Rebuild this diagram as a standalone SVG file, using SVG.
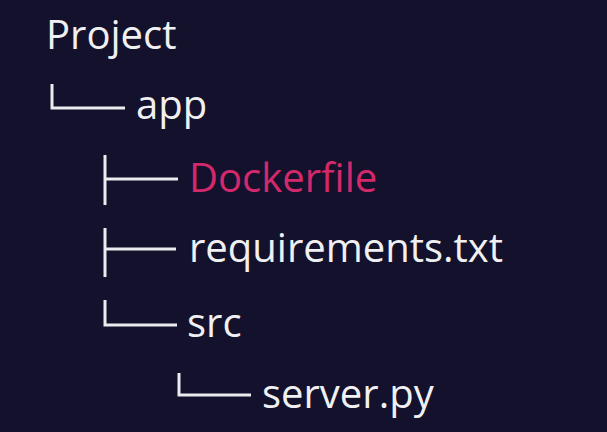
<svg xmlns="http://www.w3.org/2000/svg" width="607" height="432" viewBox="0 0 607 432">
<style>
.t{font-family:"Open Sans","Noto Sans",sans-serif;font-size:40px;fill:#f0f0f2}
.d{fill:#d3296c}
.c{fill:none;stroke:#ececf0;stroke-width:3}
</style>
<rect width="607" height="432" fill="#13112b"/>
<g id="connectors">
<path class="c" d="M52 84V108H125"/>
<path class="c" d="M105 155V205M105 179H178"/>
<path class="c" d="M105 228V277M105 249H176"/>
<path class="c" d="M105 300V325H177"/>
<path class="c" d="M179 373V395H251"/>
</g>
<g id="project"><text class="t" x="46" y="49">Project</text></g>
<g id="app"><text class="t" x="136" y="119">app</text></g>
<g id="dockerfile"><text class="t d" x="189" y="192">Dockerfile</text></g>
<g id="requirements"><text class="t" x="189" y="262">requirements.txt</text></g>
<g id="src"><text class="t" x="187" y="337">src</text></g>
<g id="server"><text class="t" x="262" y="408">server.py</text></g>
</svg>
